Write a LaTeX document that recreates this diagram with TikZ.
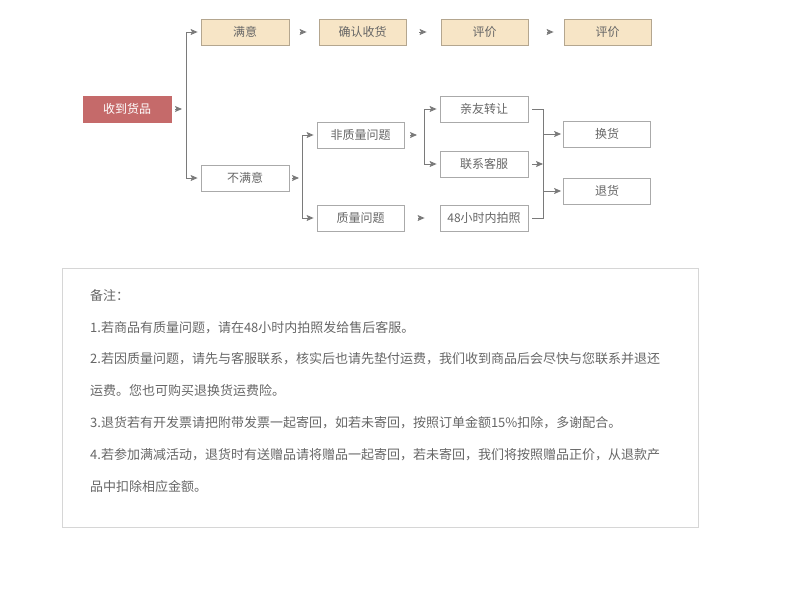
\documentclass[tikz,border=0pt]{standalone}
\usepackage{fontspec}
\setmainfont{Noto Sans CJK SC}
\usetikzlibrary{arrows.meta}
\definecolor{cc56a6a}{RGB}{197,106,106}
\definecolor{cf7e5c6}{RGB}{247,229,198}
\definecolor{cb4a68f}{RGB}{180,166,143}
\definecolor{caaaaaa}{RGB}{170,170,170}
\definecolor{c666666}{RGB}{102,102,102}
\definecolor{c7a7a7a}{RGB}{122,122,122}
\definecolor{cd6d6d6}{RGB}{214,214,214}

\tikzset{
  box/.style={draw=caaaaaa, fill=white, text=c666666, minimum width=88pt, minimum height=26pt, inner sep=0pt, line width=0.8pt, font=\fontsize{12}{14}\selectfont},
  okbox/.style={box, draw=cb4a68f, fill=cf7e5c6},
  startbox/.style={box, draw=cc56a6a, fill=cc56a6a, text=white},
  line/.style={draw=c7a7a7a, line width=0.9pt},
  flow/.style={line, -{Stealth[length=7pt, width=6pt, inset=1.5pt]}, shorten >=3pt},
  notetext/.style={anchor=west, inner sep=0pt, text=c666666, font=\fontsize{13}{15}\selectfont}
}

\begin{document}
\begin{tikzpicture}[x=1pt, y=-1pt]
  \useasboundingbox (0,0) rectangle (790,606);

  \node[startbox] (recv) at (127,109) {收到货品};
  \node[okbox] (sat) at (245,32) {满意};
  \node[okbox, minimum width=87pt] (confirm) at (362.5,32) {确认收货};
  \node[okbox, minimum width=87pt] (evalA) at (484.5,32) {评价};
  \node[okbox, minimum width=87pt] (evalB) at (607.5,32) {评价};
  \node[box] (unsat) at (245,178) {不满意};
  \node[box, minimum width=87pt] (nonqual) at (360.5,135) {非质量问题};
  \node[box, minimum width=87pt] (qual) at (360.5,218) {质量问题};
  \node[box] (gift) at (484,109) {亲友转让};
  \node[box] (service) at (484,164) {联系客服};
  \node[box] (photo) at (484,218) {48小时内拍照};
  \node[box, minimum width=87pt] (exchange) at (607,134) {换货};
  \node[box, minimum width=87pt] (refund) at (607,191) {退货};

  \coordinate (split1) at (186,109);
  \coordinate (split2) at (302,178);
  \coordinate (split3) at (424,135);
  \coordinate (merge) at (543,164);

  \draw[flow, shorten <=4pt, shorten >=4pt] (recv.east) -- (split1);
  \draw[flow] (split1) |- (sat.west);
  \draw[flow] (split1) |- (unsat.west);

  \draw[flow, shorten <=11pt, shorten >=12pt] (sat.east) -- (confirm.west);
  \draw[flow, shorten <=13pt, shorten >=14pt] (confirm.east) -- (evalA.west);
  \draw[flow, shorten <=19pt, shorten >=10pt] (evalA.east) -- (evalB.west);

  \draw[flow, shorten <=3pt, shorten >=3pt] (unsat.east) -- (split2);
  \draw[flow] (split2) |- (nonqual.west);
  \draw[flow] (split2) |- (qual.west);

  \draw[flow, shorten <=6pt, shorten >=7pt] (nonqual.east) -- (split3);
  \draw[flow] (split3) |- (gift.west);
  \draw[flow] (split3) |- (service.west);
  \draw[flow, shorten <=14pt, shorten >=15pt] (qual.east) -- (photo.west);

  \draw[line, shorten <=4pt] (gift.east) -| (merge);
  \draw[line, shorten <=4pt] (photo.east) -| (merge);
  \draw[flow, shorten <=4pt, shorten >=0pt] (service.east) -- (merge);
  \draw[flow, shorten >=2pt] (merge) |- (exchange.west);
  \draw[flow, shorten >=2pt] (merge) |- (refund.west);

  \draw[draw=cd6d6d6, line width=0.9pt] (62,268) rectangle (698,527);
  \node[notetext] (noteHead) at (90,296) {备注：};
  \node[notetext] (noteA) at (90,327.5) {1.若商品有质量问题，请在48小时内拍照发给售后客服。};
  \node[notetext] (noteB) at (90,359) {2.若因质量问题，请先与客服联系，核实后也请先垫付运费，我们收到商品后会尽快与您联系并退还};
  \node[notetext] (noteB2) at (90,391) {运费。您也可购买退换货运费险。};
  \node[notetext] (noteC) at (90,423) {3.退货若有开发票请把附带发票一起寄回，如若未寄回，按照订单金额15\%扣除，多谢配合。};
  \node[notetext] (noteD) at (90,455) {4.若参加满减活动，退货时有送赠品请将赠品一起寄回，若未寄回，我们将按照赠品正价，从退款产};
  \node[notetext] (noteD2) at (90,487) {品中扣除相应金额。};
\end{tikzpicture}
\end{document}
